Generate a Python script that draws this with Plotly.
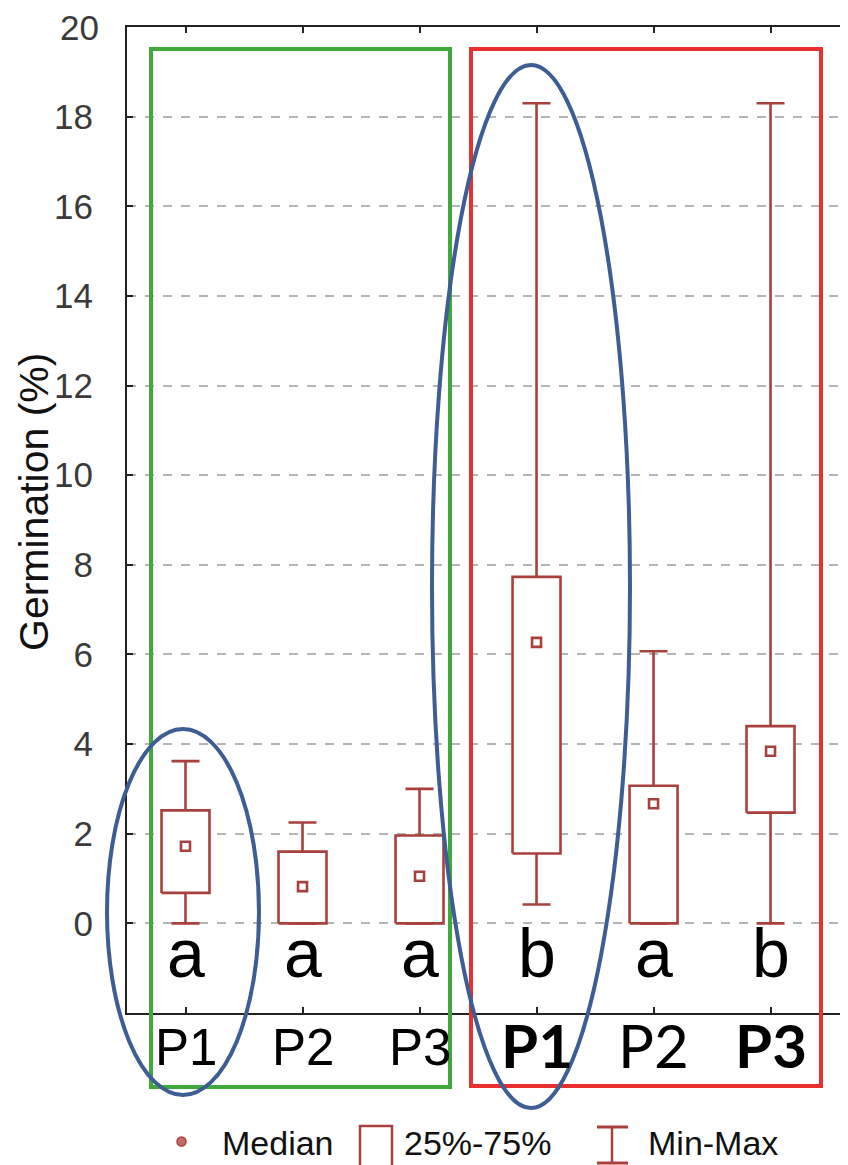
import plotly.graph_objects as go

# ---------------- data ----------------
categories = ["P1", "P2", "P3", "P1", "P2", "P3"]
group_letters = ["a", "a", "a", "b", "a", "b"]
mins    = [0.0, 0.0, 0.0, 0.42, 0.0, 0.0]
q1s     = [0.68, 0.0, 0.0, 1.56, 0.0, 2.47]
medians = [1.72, 0.82, 1.05, 6.27, 2.67, 3.84]
q3s     = [2.52, 1.60, 1.96, 7.73, 3.07, 4.40]
maxs    = [3.62, 2.25, 3.00, 18.30, 6.07, 18.30]
y_ticks = list(range(0, 21, 2))
legend_labels = ["Median", "25%-75%", "Min-Max"]

# ---------------- styles ----------------
# The page has an 8px body margin, so the figure is made 8px smaller and
# everything below is expressed in page pixels.
PAGE_OFF = 8
W, H = 848 - PAGE_OFF, 1165 - PAGE_OFF
PL, PT, PR, PB = 127, 27, 848, 1013          # plot rect in page pixels
ML, MT = PL - PAGE_OFF, PT - PAGE_OFF
MR = 0
MB = H - MT - (PB - PT)
PW, PH = PR - PL, PB - PT
BOXC = "#a8403e"
GREEN = "#3fa93c"
RED = "#e8312f"
BLUE = "#3e5d93"
HALF = 0.205
TICKFONT = dict(family="Liberation Sans", size=35, color="#3a3a3a")
xpos = list(range(len(categories)))


def px(x):
    return (x - PL) / PW


def py(y):
    return (PB - y) / PH


fig = go.Figure()

# whiskers via error bars
fig.add_trace(go.Scatter(
    x=xpos, y=medians, mode="markers",
    marker=dict(size=1, color="rgba(0,0,0,0)"),
    error_y=dict(type="data", symmetric=False,
                 array=[mx - m for mx, m in zip(maxs, medians)],
                 arrayminus=[m - mn for m, mn in zip(medians, mins)],
                 color=BOXC, thickness=2.6, width=14),
    hoverinfo="skip", showlegend=False))

# boxes as filled polygons
bx, by = [], []
for x, a, b in zip(xpos, q1s, q3s):
    bx += [x - HALF, x + HALF, x + HALF, x - HALF, x - HALF, None]
    by += [a, a, b, b, a, None]
fig.add_trace(go.Scatter(x=bx, y=by, mode="lines", fill="toself",
                         fillcolor="white", line=dict(color=BOXC, width=2.6),
                         hoverinfo="skip", showlegend=False))

# medians
fig.add_trace(go.Scatter(x=xpos, y=medians, mode="markers",
                         marker=dict(symbol="square-open", size=9,
                                     color=BOXC, line=dict(width=2.6)),
                         showlegend=False))

shapes = []
# group frames
shapes.append(dict(type="rect", xref="paper", yref="paper",
                   x0=px(151), x1=px(450), y0=py(1087), y1=py(49),
                   line=dict(color=GREEN, width=4)))
shapes.append(dict(type="rect", xref="paper", yref="paper",
                   x0=px(471), x1=px(821), y0=py(1086), y1=py(49),
                   line=dict(color=RED, width=4)))
# ellipses
shapes.append(dict(type="circle", xref="paper", yref="paper",
                   x0=px(107), x1=px(259), y0=py(1095), y1=py(729),
                   line=dict(color=BLUE, width=4)))
shapes.append(dict(type="circle", xref="paper", yref="paper",
                   x0=px(432), x1=px(630), y0=py(1108), y1=py(65),
                   line=dict(color=BLUE, width=4)))

# legend icons
shapes.append(dict(type="circle", xref="paper", yref="paper",
                   x0=px(177), x1=px(186), y0=py(1146), y1=py(1137),
                   fillcolor="#c46a68", line=dict(color=BOXC, width=1.5)))
shapes.append(dict(type="rect", xref="paper", yref="paper",
                   x0=px(360), x1=px(392), y0=py(1170), y1=py(1126),
                   fillcolor="white", line=dict(color=BOXC, width=2.5)))
shapes.append(dict(type="line", xref="paper", yref="paper",
                   x0=px(612), x1=px(612), y0=py(1164), y1=py(1127),
                   line=dict(color=BOXC, width=2.5)))
shapes.append(dict(type="line", xref="paper", yref="paper",
                   x0=px(597), x1=px(628), y0=py(1127), y1=py(1127),
                   line=dict(color=BOXC, width=3)))
shapes.append(dict(type="line", xref="paper", yref="paper",
                   x0=px(597), x1=px(628), y0=py(1163), y1=py(1163),
                   line=dict(color=BOXC, width=3)))

annotations = []
# top tick label (drawn as annotation so it is not dropped at the page edge)
annotations.append(dict(xref="paper", yref="y", x=px(101), y=y_ticks[-1],
                        text=str(y_ticks[-1]), showarrow=False, font=TICKFONT,
                        xanchor="right", yanchor="middle"))
# y title
annotations.append(dict(xref="paper", yref="paper", x=px(34), y=py(502),
                        text="Germination (%)", textangle=-90, showarrow=False,
                        font=dict(family="Liberation Sans", size=41, color="#111"),
                        xanchor="center", yanchor="middle"))
# letters
for x, l in zip(xpos, group_letters):
    annotations.append(dict(xref="x", yref="paper", x=x, y=py(953),
                            text=l, showarrow=False,
                            font=dict(family="Liberation Sans", size=68, color="black"),
                            xanchor="center", yanchor="middle"))
# category labels
for i, (x, c) in enumerate(zip(xpos, categories)):
    if i < 3:
        f = dict(family="Liberation Sans", size=51, color="black")
        yy = py(1047)
        t = c
    else:
        f = dict(family="Lato", size=60, color="black")
        yy = py(1045)
        t = "<b>%s</b>" % c if i != 4 else c
    annotations.append(dict(xref="x", yref="paper", x=x, y=yy, text=t,
                            showarrow=False, font=f,
                            xanchor="center", yanchor="middle"))
# legend texts
for lab, xl in zip(legend_labels, [220, 402, 646]):
    annotations.append(dict(xref="paper", yref="paper", x=px(xl), y=py(1143),
                            text=lab, showarrow=False,
                            font=dict(family="Liberation Sans", size=34, color="#111"),
                            xanchor="left", yanchor="middle"))

fig.update_layout(
    width=W, height=H,
    margin=dict(l=ML, r=MR, t=MT, b=MB, pad=0, autoexpand=False),
    paper_bgcolor="white", plot_bgcolor="white",
    shapes=shapes, annotations=annotations, showlegend=False,
    xaxis=dict(range=[-0.5, 5.662], tickvals=xpos, ticktext=[""] * 6,
               showgrid=False, zeroline=False, showline=True,
               linecolor="#222", linewidth=2, mirror="ticks",
               ticks="inside", ticklen=6, tickcolor="#222", tickwidth=2),
    yaxis=dict(range=[-2, 20], tickvals=y_ticks,
               ticktext=[str(v) for v in y_ticks[:-1]] + [""],
               showgrid=True,
               gridcolor="#b5b5b5", griddash="dash", gridwidth=1.5,
               zeroline=False, showline=True, linecolor="#222", linewidth=2,
               mirror="ticks", ticks="inside", ticklen=6, tickcolor="#222",
               tickwidth=2, ticklabelstandoff=25, automargin=False,
               tickfont=TICKFONT),
)

fig.write_html("out.html")
